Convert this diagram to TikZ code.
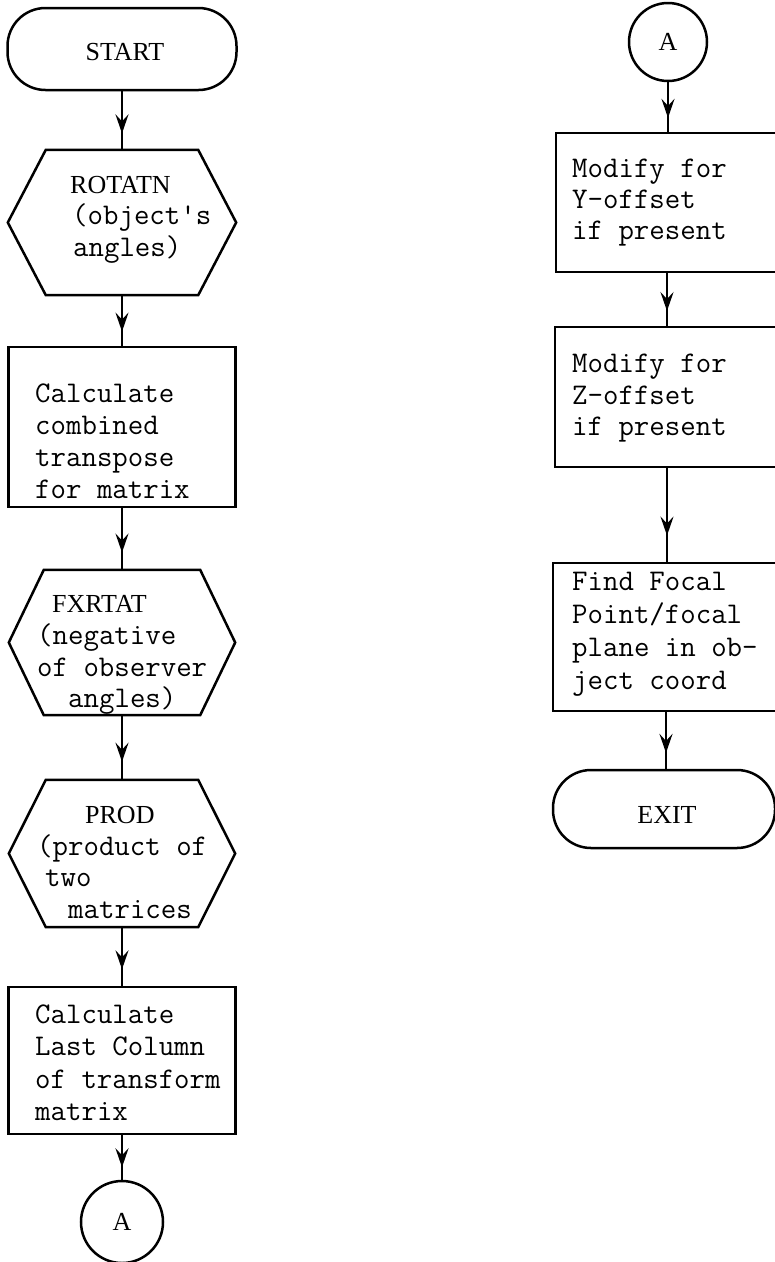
\documentclass[tikz,border=0pt]{standalone}
\usepackage{fontspec}
\newfontfamily\labelserif{Liberation Serif}
\usetikzlibrary{arrows.meta,decorations.markings}

% hexagonal outline drawn around a plain rectangular frame node
\newcommand\hexoutline[2]{%
  \draw[hexline] ([xshift=#2]#1.north west) -- ([xshift=-#2]#1.north east) -- (#1.east)
    -- ([xshift=-#2]#1.south east) -- ([xshift=#2]#1.south west) -- (#1.west) -- cycle;}

\begin{document}
\begin{tikzpicture}[x=1pt,y=-1pt,
  outline/.style={draw, line width=2.5pt, inner sep=0pt},
  stepbox/.style={outline, rectangle},
  term/.style={outline, rectangle, rounded corners=38pt},
  conn/.style={outline, circle, font=\labelserif\fontsize{26}{28}\selectfont},
  hexframe/.style={rectangle, inner sep=0pt},
  hexline/.style={line width=2.5pt, line join=miter},
  mono/.style={font=\ttfamily\fontsize{30}{32}\selectfont, anchor=base west, inner sep=0pt},
  roman/.style={font=\labelserif\fontsize{26}{28}\selectfont, anchor=base west, inner sep=0pt},
  flow/.style={line width=2.5pt, postaction={decorate},
    decoration={markings, mark=at position 0.72 with {\arrow{Stealth[length=19pt,width=13pt,inset=7pt]}}}}
]
\clip (0,0) rectangle (775,1262);

% ---------------- left column ----------------
\node[term, minimum width=229pt, minimum height=82pt] (start) at (122,49) {};
\node[roman, anchor=base] (startt) at (125,60) {START};

\node[hexframe, minimum width=228pt, minimum height=145pt] (rot) at (122,222.5) {};
\hexoutline{rot}{38pt}
\node[roman] (rott1) at (70,193) {ROTATN};
\node[mono] (rott2) at (72,224) {(object\textquotesingle s};
\node[mono] (rott3) at (73,256) {angles)};

\node[stepbox, minimum width=227pt, minimum height=160pt] (calc1) at (122,427) {};
\node[mono] (calc1t1) at (35,402) {Calculate};
\node[mono] (calc1t2) at (35,434) {combined};
\node[mono] (calc1t3) at (35,466) {transpose};
\node[mono] (calc1t4) at (35,498) {for matrix};

\node[hexframe, minimum width=226pt, minimum height=145pt] (fxr) at (122,642.5) {};
\hexoutline{fxr}{35pt}
\node[roman] (fxrt1) at (52,612) {FXRTAT};
\node[mono] (fxrt2) at (37,644) {(negative};
\node[mono] (fxrt3) at (37,676) {of observer};
\node[mono] (fxrt4) at (68,707) {angles)};

\node[hexframe, minimum width=226pt, minimum height=147pt] (prod) at (122,853.5) {};
\hexoutline{prod}{37pt}
\node[roman] (prodt1) at (85,823) {PROD};
\node[mono] (prodt2) at (37,855) {(product of};
\node[mono] (prodt3) at (45,886) {two};
\node[mono] (prodt4) at (68,918) {matrices};

\node[stepbox, minimum width=227pt, minimum height=147pt] (calc2) at (122,1060.5) {};
\node[mono] (calc2t1) at (35,1023) {Calculate};
\node[mono] (calc2t2) at (35,1055) {Last Column};
\node[mono] (calc2t3) at (35,1088) {of transform};
\node[mono] (calc2t4) at (35,1120) {matrix};

\node[conn, minimum size=82pt] (conA) at (122,1222) {A};

\draw[flow] (start.south) -- (rot.north);
\draw[flow] (rot.south) -- (calc1.north);
\draw[flow] (calc1.south) -- (fxr.north);
\draw[flow] (fxr.south) -- (prod.north);
\draw[flow] (prod.south) -- (calc2.north);
\draw[flow] (calc2.south) -- (conA.north);

% ---------------- right column ----------------
\node[conn, minimum size=78pt] (conB) at (668,42) {A};

\node[stepbox, minimum width=223pt, minimum height=139pt] (ymod) at (667.5,202.5) {};
\node[mono] (ymodt1) at (572,177) {Modify for};
\node[mono] (ymodt2) at (572,208) {Y-offset};
\node[mono] (ymodt3) at (572,239) {if present};

\node[stepbox, minimum width=224pt, minimum height=140pt] (zmod) at (667,397) {};
\node[mono] (zmodt1) at (572,372) {Modify for};
\node[mono] (zmodt2) at (572,404) {Z-offset};
\node[mono] (zmodt3) at (572,435) {if present};

\node[stepbox, minimum width=226pt, minimum height=148pt] (focal) at (666,637) {};
\node[mono] (focalt1) at (572,590) {Find Focal};
\node[mono] (focalt2) at (572,623) {Point/focal};
\node[mono] (focalt3) at (572,656) {plane in ob-};
\node[mono] (focalt4) at (572,689) {ject coord};

\node[term, minimum width=222pt, minimum height=78pt] (exit) at (664,809) {};
\node[roman, anchor=base] (exitt) at (667,823) {EXIT};

\draw[flow] (conB.south) -- (conB.south |- ymod.north);
\draw[flow] (zmod.north |- ymod.south) -- (zmod.north);
\draw[flow] (zmod.south) -- (zmod.south |- focal.north);
\draw[flow] (focal.south) -- (focal.south |- exit.north);
\end{tikzpicture}
\end{document}
